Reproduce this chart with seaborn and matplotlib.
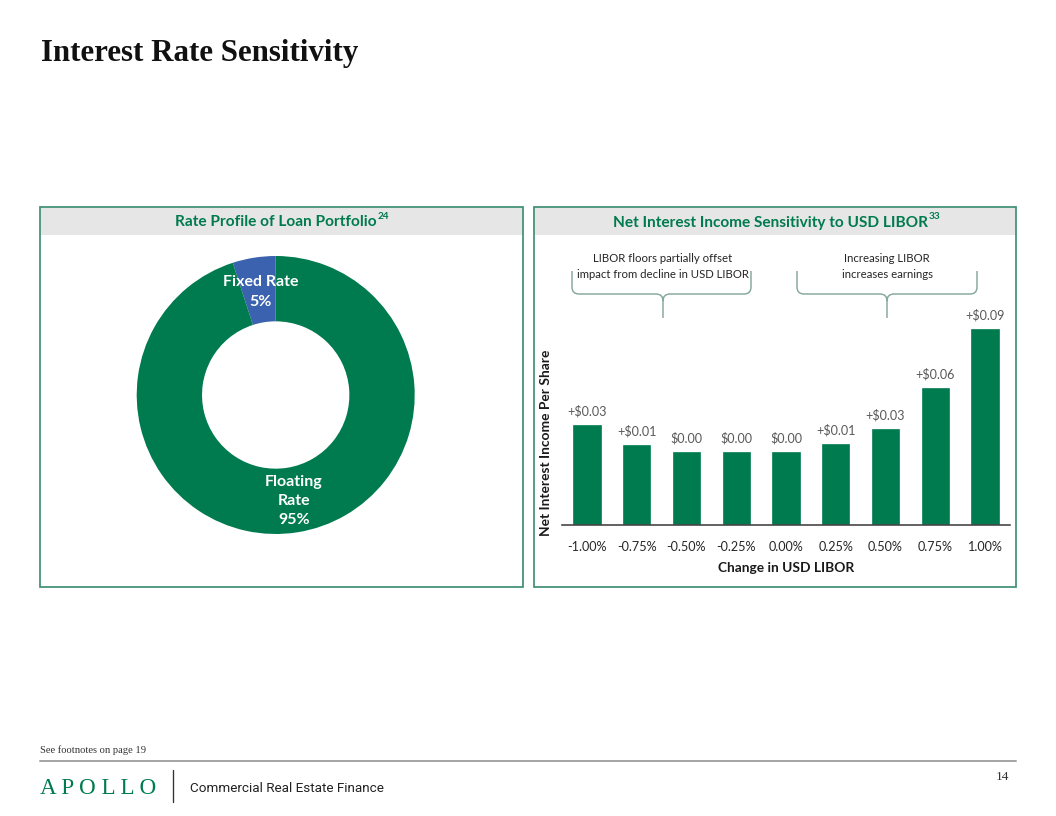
import numpy as np
import pandas as pd
import matplotlib
matplotlib.use("Agg")
import matplotlib.pyplot as plt
import seaborn as sns
from matplotlib.patches import Rectangle, PathPatch
from matplotlib.path import Path

# ---------------- data ----------------
portfolio_labels = ["Fixed Rate\n5%", "Floating\nRate\n95%"]
portfolio_shares = [5, 95]
libor_changes = ["-1.00%", "-0.75%", "-0.50%", "-0.25%", "0.00%",
                 "0.25%", "0.50%", "0.75%", "1.00%"]
nii_labels = ["+$0.03", "+$0.01", "$0.00", "$0.00", "$0.00",
              "+$0.01", "+$0.03", "+$0.06", "+$0.09"]
# bar heights as drawn in the picture (value axis is unlabelled)
bar_heights = [101, 81, 74, 74, 74, 82, 97, 138, 197]

GREEN = "#007A4F"
BLUE = "#3A62AE"
BORDER = "#3F8F74"
HEADER = "#E6E6E6"

sns.set_theme(style="white")
plt.rcParams["font.family"] = ["Lato", "DejaVu Sans"]

W, H = 1056, 816
fig = plt.figure(figsize=(W / 96, H / 96), dpi=96)
fig.patch.set_facecolor("white")


def fx(x):
    return x / W


def fy(y):
    return 1 - y / H


def ftext(x, y, s, **kw):
    return fig.text(fx(x), fy(y), s, **kw)


# overlay axes in pixel coordinates for panels / decorations
ov = fig.add_axes([0, 0, 1, 1], zorder=0)
ov.set_xlim(0, W)
ov.set_ylim(H, 0)
ov.axis("off")

for (x0, x1) in [(40, 523), (534, 1016)]:
    ov.add_patch(Rectangle((x0, 207), x1 - x0, 28, facecolor=HEADER, edgecolor="none"))
    ov.add_patch(Rectangle((x0, 207), x1 - x0, 380, facecolor="none",
                           edgecolor=BORDER, lw=1.3))


def brace(x0, x1, xc, ytop, ymid, ytip, r=7):
    verts = [(x0, ytop), (x0, ymid - r), (x0, ymid), (x0 + r, ymid),
             (xc - r, ymid), (xc, ymid), (xc, ymid + r), (xc, ytip),
             (x1, ytop), (x1, ymid - r), (x1, ymid), (x1 - r, ymid),
             (xc + r, ymid), (xc, ymid), (xc, ymid + r)]
    codes = [Path.MOVETO, Path.LINETO, Path.CURVE3, Path.CURVE3,
             Path.LINETO, Path.CURVE3, Path.CURVE3, Path.LINETO,
             Path.MOVETO, Path.LINETO, Path.CURVE3, Path.CURVE3,
             Path.LINETO, Path.CURVE3, Path.CURVE3]
    ov.add_patch(PathPatch(Path(verts, codes), facecolor="none",
                           edgecolor="#86A89C", lw=1.1))


brace(572, 751, 663, 271, 294, 318)
brace(797, 977, 887, 271, 294, 318)

# footer
ov.plot([40, 1016], [760.5, 760.5], color="#A6A6A6", lw=1.5)
ov.plot([173, 173], [770, 802], color="#333333", lw=1.0)

# ---------------- donut ----------------
cx, cy, R = 275.7, 395, 139
axp = fig.add_axes([fx(cx - R), fy(cy + R), 2 * R / W, 2 * R / H], zorder=1)
axp.pie(portfolio_shares, colors=[BLUE, GREEN], startangle=90, counterclock=True,
        radius=1, wedgeprops=dict(width=0.47, edgecolor="none"))
axp.set_xlim(-1, 1)
axp.set_ylim(-1, 1)
axp.set_aspect("equal")
axp.axis("off")

ftext(261, 292, portfolio_labels[0], ha="center", va="center", color="white",
      fontsize=12, fontweight="bold", linespacing=1.5)
ftext(294, 501, portfolio_labels[1], ha="center", va="center", color="white",
      fontsize=12, fontweight="bold", linespacing=1.5)

# ---------------- bars ----------------
base_y, top_y, left_x, right_x = 525, 310, 562, 1010
axb = fig.add_axes([fx(left_x), fy(base_y), (right_x - left_x) / W, (base_y - top_y) / H],
                   zorder=1)
axb.patch.set_alpha(0)
df = pd.DataFrame({"change": libor_changes, "height": bar_heights})
sns.barplot(data=df, x="change", y="height", order=libor_changes, color=GREEN,
            saturation=1, width=0.59, ax=axb)
axb.set_xlim(-0.5, len(libor_changes) - 0.5)
axb.set_ylim(0, base_y - top_y)
axb.bar_label(axb.containers[0], labels=[s.replace("$", r"\$") for s in nii_labels],
              padding=5, fontsize=9.5, color="#595959")
axb.set_yticks([])
axb.tick_params(axis="x", length=0, pad=12, labelsize=9.5, labelcolor="#262626")
for s in ["left", "top", "right"]:
    axb.spines[s].set_visible(False)
axb.spines["bottom"].set_color("#404040")
axb.spines["bottom"].set_linewidth(1.2)
axb.set_xlabel("Change in USD LIBOR", fontsize=10.3, fontweight="bold", color="#1a1a1a")
axb.set_ylabel("Net Interest Income Per Share", fontsize=10.3, fontweight="bold",
               color="#1a1a1a")
axb.xaxis.set_label_coords(0.5, -(561.5 - base_y) / (base_y - top_y))
axb.yaxis.set_label_coords((552 - left_x) / (right_x - left_x),
                           (base_y - 443) / (base_y - top_y))

# annotations above the bars
ftext(663, 266.5, "LIBOR floors partially offset\nimpact from decline in USD LIBOR",
      ha="center", va="center", fontsize=8.5, color="#262626", linespacing=1.45)
ftext(887, 266.5, "Increasing LIBOR\nincreases earnings",
      ha="center", va="center", fontsize=8.5, color="#262626", linespacing=1.6)

# ---------------- headers / titles ----------------
fig.canvas.draw()
renderer = fig.canvas.get_renderer()


def header(xl, y, s, sup):
    t = ftext(xl, y, s, ha="left", va="center", fontsize=11.5, fontweight="bold",
              color=GREEN)
    bb = t.get_window_extent(renderer)
    x_end = bb.x1
    fig.text(x_end / fig.bbox.width + 0.5 / W, fy(y - 6), sup, ha="left", va="center",
             fontsize=7.5, fontweight="bold", color=GREEN)


header(175, 222.5, "Rate Profile of Loan Portfolio", "24")
header(613, 222.5, "Net Interest Income Sensitivity to USD LIBOR", "33")

ftext(41, 53, "Interest Rate Sensitivity", ha="left", va="center",
      fontsize=23.2, fontweight="bold", family="Liberation Serif", color="#111111")

ftext(40, 750, "See footnotes on page 19", ha="left", va="center", fontsize=7.9,
      family="Liberation Serif", color="#333333")
ftext(40, 788, "A P O L L O", ha="left", va="center", fontsize=17.3,
      family="Liberation Serif", color=GREEN)
ftext(190, 788, "Commercial Real Estate Finance", ha="left", va="center",
      fontsize=10.1, family="Roboto", color="#222222")
ftext(1003, 777, "14", ha="center", va="center", fontsize=10,
      family="Liberation Serif", color="#333333")

fig.savefig("out.png", dpi=96, facecolor="white")
